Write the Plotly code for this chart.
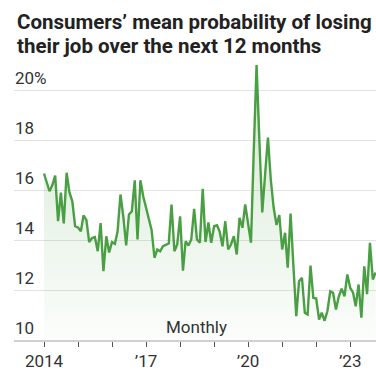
import pandas as pd
import plotly.graph_objects as go

# Monthly values, Jan 2014 onward (percent)
values = [
    16.66, 16.3, 15.95, 16.2, 16.58, 14.75, 15.9, 14.66, 16.69, 15.9, 15.55, 14.55,   # 2014
    14.5, 14.35, 14.98, 14.8, 13.92, 14.08, 14.12, 13.55, 14.68, 12.75, 14.15, 13.5,  # 2015
    13.92, 13.85, 14.35, 15.82, 14.95, 13.78, 15.02, 15.15, 16.39, 14.02, 16.39, 15.75,  # 2016
    15.22, 14.82, 14.4, 13.29, 13.62, 13.55, 13.75, 13.82, 13.86, 15.42, 13.55, 13.82,  # 2017
    14.95, 12.77, 13.95, 13.78, 14.02, 15.25, 14.02, 13.89, 16.05, 13.92, 14.7, 13.89,  # 2018
    14.55, 14.59, 14.35, 13.75, 14.75, 13.62, 13.82, 14.15, 13.42, 14.89, 14.49, 15.42,  # 2019
    14.62, 13.89, 17.5, 21.0, 18.0, 15.1, 16.6, 18.1, 16.4, 15.3, 14.6, 15.0,  # 2020
    13.62, 14.29, 12.89, 15.06, 13.0, 10.95, 12.35, 12.49, 11.09, 11.02, 12.98, 11.69,  # 2021
    11.66, 10.82, 11.09, 10.77, 11.15, 11.95, 11.89, 11.22, 11.75, 12.05, 11.75, 12.62,  # 2022
    12.09, 11.89, 11.35, 12.22, 10.89, 12.95, 11.83, 13.89, 12.42, 12.7,  # 2023
]
dates = pd.date_range("2014-01-01", periods=len(values), freq="MS")

y_tickvals = [10, 12, 14, 16, 18, 20]
y_ticktext = ["10", "12", "14", "16", "18", "20%"]
x_tickvals = [d.strftime("%Y-%m-%d") for d in pd.date_range("2014-01-01", "2023-01-01", freq="YS")]
x_ticktext = ["2014", "", "", "\u201917", "", "", "\u201920", "", "", "\u201923"]

title_line1 = "Consumers\u2019 mean probability of losing"
title_line2 = "their job over the next 12 months"
note = "Monthly"

GREEN = "#4a9e43"
FONT = "Roboto, Arial, sans-serif"

fig = go.Figure()
fig.add_trace(go.Scatter(
    x=dates, y=values, mode="lines",
    line=dict(color=GREEN, width=2.4),
    fill="tozeroy",
    fillgradient=dict(
        type="vertical",
        colorscale=[[0, "rgba(76,160,69,0.02)"], [1, "rgba(76,160,69,0.24)"]],
        start=10, stop=21,
    ),
    hoverinfo="skip", showlegend=False,
))

fig.update_layout(
    width=376, height=371,
    margin=dict(l=14, r=0, t=60, b=31),
    paper_bgcolor="white", plot_bgcolor="white",
    font=dict(family=FONT, color="#333333"),
    xaxis=dict(
        type="date",
        range=["2013-02-13", "2023-10-05"],
        tickmode="array", tickvals=x_tickvals, ticktext=x_ticktext,
        showgrid=False, showline=True, linecolor="#d0d0d0", linewidth=1.5,
        ticks="outside", ticklen=5, tickwidth=1.3, tickcolor="#555555",
        tickfont=dict(size=17, color="#333333"),
        fixedrange=True,
    ),
    yaxis=dict(
        range=[10, 21.2],
        side="right", anchor="free", position=0,
        tickvals=y_tickvals, ticktext=y_ticktext,
        ticklabelposition="outside top",
        showgrid=True, gridcolor="#e2e2e2", gridwidth=1.3,
        zeroline=False, showline=False, ticks="",
        tickfont=dict(size=17, color="#333333"),
        fixedrange=True,
    ),
    annotations=[
        dict(text=f"<b>{title_line1}</b>", xref="paper", yref="paper",
             x=(15 - 14) / 362, y=(340 - 8) / 280, xanchor="left", yanchor="top",
             showarrow=False, font=dict(size=20.5, color="#222222", family=FONT)),
        dict(text=f"<b>{title_line2}</b>", xref="paper", yref="paper",
             x=(15 - 14) / 362, y=(340 - 32) / 280, xanchor="left", yanchor="top",
             showarrow=False, font=dict(size=20.5, color="#222222", family=FONT)),
        dict(text=note, xref="paper", yref="paper",
             x=(196 - 14) / 362, y=(340 - 327) / 280, xanchor="center", yanchor="middle",
             showarrow=False, font=dict(size=17, color="#333333", family=FONT)),
    ],
)

fig.write_html("out.html")
